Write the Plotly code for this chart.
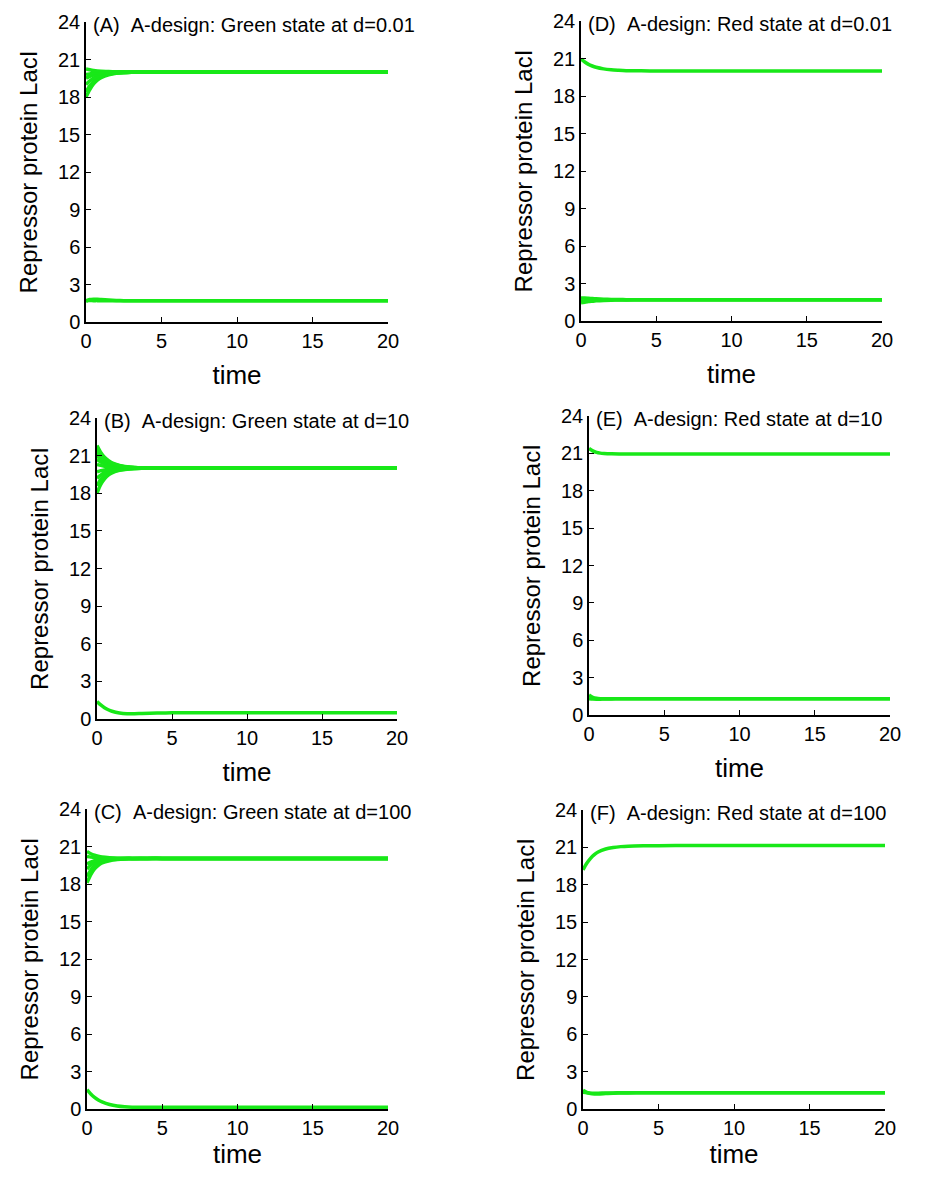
import plotly.graph_objects as go
from plotly.subplots import make_subplots

# time samples (shared by all trajectories)
t = [0, 0.25, 0.5, 0.75, 1, 1.5, 2, 2.5, 3, 4, 5, 7, 10, 15, 20]

# ---- Panel A: Green state at d=0.01 ----
A_upper = [
    [18.0, 18.6, 19.05, 19.35, 19.55, 19.78, 19.9, 19.95, 19.98, 20.0, 20.0, 20.0, 20.0, 20.0, 20.0],
    [18.4, 18.9, 19.25, 19.5, 19.65, 19.83, 19.92, 19.96, 19.98, 20.0, 20.0, 20.0, 20.0, 20.0, 20.0],
    [19.0, 19.3, 19.5, 19.65, 19.75, 19.87, 19.93, 19.97, 19.99, 20.0, 20.0, 20.0, 20.0, 20.0, 20.0],
    [19.5, 19.65, 19.75, 19.83, 19.88, 19.93, 19.96, 19.98, 19.99, 20.0, 20.0, 20.0, 20.0, 20.0, 20.0],
    [19.8, 19.85, 19.9, 19.93, 19.95, 19.97, 19.98, 19.99, 20.0, 20.0, 20.0, 20.0, 20.0, 20.0, 20.0],
    [20.25, 20.18, 20.12, 20.08, 20.06, 20.04, 20.02, 20.01, 20.0, 20.0, 20.0, 20.0, 20.0, 20.0, 20.0],
]
A_lower = [
    [1.65, 1.8, 1.83, 1.82, 1.8, 1.76, 1.73, 1.71, 1.7, 1.7, 1.7, 1.7, 1.7, 1.7, 1.7],
    [1.72, 1.72, 1.71, 1.71, 1.7, 1.7, 1.7, 1.7, 1.7, 1.7, 1.7, 1.7, 1.7, 1.7, 1.7],
]

# ---- Panel B: Green state at d=10 ----
B_upper = [
    [18.0, 18.7, 19.15, 19.45, 19.62, 19.82, 19.92, 19.97, 19.99, 20.0, 20.0, 20.0, 20.0, 20.0, 20.0],
    [18.6, 19.1, 19.4, 19.6, 19.72, 19.86, 19.94, 19.97, 19.99, 20.0, 20.0, 20.0, 20.0, 20.0, 20.0],
    [19.2, 19.45, 19.62, 19.74, 19.82, 19.9, 19.95, 19.98, 19.99, 20.0, 20.0, 20.0, 20.0, 20.0, 20.0],
    [19.7, 19.8, 19.86, 19.9, 19.93, 19.96, 19.98, 19.99, 20.0, 20.0, 20.0, 20.0, 20.0, 20.0, 20.0],
    [20.3, 20.22, 20.16, 20.12, 20.09, 20.05, 20.03, 20.01, 20.0, 20.0, 20.0, 20.0, 20.0, 20.0, 20.0],
    [20.7, 20.5, 20.36, 20.26, 20.19, 20.1, 20.05, 20.02, 20.01, 20.0, 20.0, 20.0, 20.0, 20.0, 20.0],
    [21.0, 20.7, 20.5, 20.36, 20.26, 20.14, 20.07, 20.03, 20.01, 20.0, 20.0, 20.0, 20.0, 20.0, 20.0],
    [21.3, 20.92, 20.65, 20.46, 20.33, 20.17, 20.08, 20.04, 20.02, 20.0, 20.0, 20.0, 20.0, 20.0, 20.0],
    [21.55, 21.08, 20.75, 20.53, 20.38, 20.2, 20.1, 20.05, 20.02, 20.0, 20.0, 20.0, 20.0, 20.0, 20.0],
    [21.8, 21.25, 20.87, 20.61, 20.43, 20.22, 20.11, 20.05, 20.02, 20.0, 20.0, 20.0, 20.0, 20.0, 20.0],
]
B_lower = [
    [1.4, 1.12, 0.9, 0.74, 0.62, 0.48, 0.42, 0.42, 0.44, 0.47, 0.49, 0.5, 0.5, 0.5, 0.5],
]

# ---- Panel C: Green state at d=100 ----
C_upper = [
    [18.1, 18.75, 19.2, 19.5, 19.68, 19.86, 19.95, 20.0, 20.02, 20.05, 20.05, 20.05, 20.05, 20.05, 20.05],
    [18.6, 19.1, 19.45, 19.67, 19.8, 19.93, 19.99, 20.02, 20.04, 20.05, 20.05, 20.05, 20.05, 20.05, 20.05],
    [19.2, 19.5, 19.7, 19.83, 19.91, 19.98, 20.02, 20.04, 20.05, 20.05, 20.05, 20.05, 20.05, 20.05, 20.05],
    [19.6, 19.75, 19.86, 19.93, 19.98, 20.02, 20.04, 20.05, 20.05, 20.05, 20.05, 20.05, 20.05, 20.05, 20.05],
    [20.2, 20.15, 20.11, 20.09, 20.07, 20.06, 20.05, 20.05, 20.05, 20.05, 20.05, 20.05, 20.05, 20.05, 20.05],
    [20.6, 20.42, 20.3, 20.22, 20.16, 20.1, 20.07, 20.06, 20.05, 20.05, 20.05, 20.05, 20.05, 20.05, 20.05],
]
C_lower = [
    [1.55, 1.2, 0.93, 0.72, 0.57, 0.36, 0.24, 0.18, 0.15, 0.14, 0.14, 0.14, 0.14, 0.14, 0.14],
]

# ---- Panel D: Red state at d=0.01 ----
D_upper = [
    [20.95, 20.72, 20.53, 20.4, 20.3, 20.17, 20.1, 20.06, 20.03, 20.01, 20.0, 20.0, 20.0, 20.0, 20.0],
]
D_lower = [
    [1.45, 1.5, 1.55, 1.58, 1.61, 1.65, 1.67, 1.68, 1.69, 1.7, 1.7, 1.7, 1.7, 1.7, 1.7],
    [1.85, 1.84, 1.82, 1.8, 1.78, 1.75, 1.73, 1.72, 1.71, 1.7, 1.7, 1.7, 1.7, 1.7, 1.7],
    [1.6, 1.62, 1.64, 1.66, 1.67, 1.68, 1.69, 1.7, 1.7, 1.7, 1.7, 1.7, 1.7, 1.7, 1.7],
]

# ---- Panel E: Red state at d=10 ----
E_upper = [
    [21.4, 21.2, 21.08, 21.02, 20.99, 20.96, 20.95, 20.95, 20.95, 20.95, 20.95, 20.95, 20.95, 20.95, 20.95],
]
E_lower = [
    [1.6, 1.42, 1.34, 1.31, 1.3, 1.3, 1.3, 1.3, 1.3, 1.3, 1.3, 1.3, 1.3, 1.3, 1.3],
    [1.3, 1.28, 1.27, 1.27, 1.28, 1.29, 1.3, 1.3, 1.3, 1.3, 1.3, 1.3, 1.3, 1.3, 1.3],
]

# ---- Panel F: Red state at d=100 ----
F_upper = [
    [19.2, 19.72, 20.12, 20.42, 20.63, 20.87, 20.99, 21.06, 21.1, 21.13, 21.14, 21.15, 21.15, 21.15, 21.15],
]
F_lower = [
    [1.5, 1.33, 1.24, 1.21, 1.21, 1.24, 1.27, 1.28, 1.29, 1.3, 1.3, 1.3, 1.3, 1.3, 1.3],
    [1.35, 1.3, 1.27, 1.26, 1.27, 1.28, 1.29, 1.3, 1.3, 1.3, 1.3, 1.3, 1.3, 1.3, 1.3],
]

titles = [
    "(A)\u00a0\u00a0A-design: Green state at d=0.01",
    "(D)\u00a0\u00a0A-design: Red state at d=0.01",
    "(B)\u00a0\u00a0A-design: Green state at d=10",
    "(E)\u00a0\u00a0A-design: Red state at d=10",
    "(C)\u00a0\u00a0A-design: Green state at d=100",
    "(F)\u00a0\u00a0A-design: Red state at d=100",
]
panels = [A_upper + A_lower, D_upper + D_lower, B_upper + B_lower,
          E_upper + E_lower, C_upper + C_lower, F_upper + F_lower]

# page has an 8px body margin; the figure is sized to fit inside the window
OFF = 8
W, H = 943 - 2 * OFF, 1177 - 2 * OFF
# target pixel boxes in the window (x0, x1, ytop, ybottom)
boxes = [
    (86, 388, 22, 322),
    (581, 882, 21, 321),
    (97, 397, 418, 719),
    (589, 890, 416, 715),
    (87, 388, 809, 1109),
    (583, 885, 810, 1109),
]

GREEN = "rgb(24,232,24)"
FONT = "Liberation Sans, Arial, sans-serif"

fig = make_subplots(rows=3, cols=2)

for i, series in enumerate(panels):
    r, c = i // 2 + 1, i % 2 + 1
    for ys in series:
        fig.add_trace(go.Scatter(x=t, y=ys, mode="lines",
                                 line=dict(color=GREEN, width=3.5, shape="spline", smoothing=0.8),
                                 showlegend=False, hoverinfo="skip"), row=r, col=c)

annotations = []
for i, (x0, x1, yt, yb) in enumerate(boxes):
    n = "" if i == 0 else str(i + 1)
    xd = [(x0 - OFF) / W, (x1 - OFF) / W]
    yd = [1 - (yb - OFF) / H, 1 - (yt - OFF) / H]
    fig.layout["xaxis" + n].update(
        domain=xd, range=[0, 20], tickvals=[0, 5, 10, 15, 20], automargin=False,
        ticks="inside", ticklen=5, tickcolor="black", showline=True, linecolor="black",
        linewidth=1.5, showgrid=False, zeroline=False, mirror=False,
        tickfont=dict(size=20, color="black", family=FONT),
        title=dict(text="time", font=dict(size=26, color="black", family=FONT), standoff=15),
    )
    fig.layout["yaxis" + n].update(
        domain=yd, range=[0, 24], tickvals=[0, 3, 6, 9, 12, 15, 18, 21, 24], automargin=False,
        ticks="inside", ticklen=5, tickcolor="black", showline=True, linecolor="black",
        linewidth=1.5, showgrid=False, zeroline=False, mirror=False,
        tickfont=dict(size=20, color="black", family=FONT),
        title=dict(text="Repressor protein LacI", font=dict(size=24, color="black", family=FONT), standoff=14),
    )
    annotations.append(dict(text=titles[i], xref="paper", yref="paper",
                            x=(x0 + 5 - OFF) / W, y=1 - (yt + 3 - OFF) / H, xanchor="left", yanchor="middle",
                            showarrow=False, font=dict(size=20, color="black", family=FONT)))

fig.update_layout(width=W, height=H, margin=dict(l=0, r=0, t=0, b=0),
                  paper_bgcolor="white", plot_bgcolor="white",
                  annotations=annotations, showlegend=False)

fig.write_html("out.html")
